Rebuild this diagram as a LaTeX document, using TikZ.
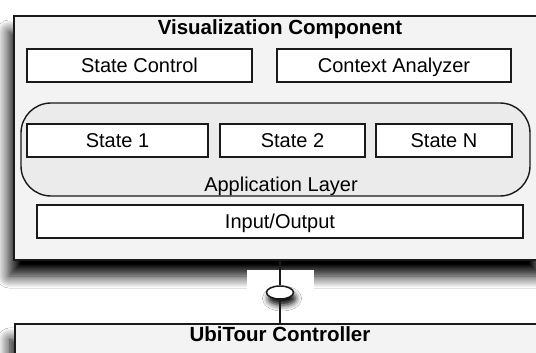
\documentclass[tikz,border=0pt]{standalone}
\usepackage{fontspec}
\setmainfont{Liberation Sans}
\usetikzlibrary{shapes.geometric,shadows.blur}
\definecolor{outerfill}{HTML}{F3F3F3}
\definecolor{layerfill}{HTML}{EBEBEB}
\definecolor{edge}{HTML}{1A1A1A}
\tikzset{
  box/.style={draw=edge, line width=1.8pt, fill=white, minimum height=33pt, inner sep=0pt,
    text height=14.3pt, text depth=0pt, font=\fontsize{20}{24}\selectfont},
  panel/.style={draw=edge, line width=1.8pt, fill=outerfill, inner sep=0pt,
    blur shadow={shadow xshift=-5pt, shadow yshift=-16pt, shadow blur radius=12pt, shadow opacity=100, shadow blur steps=12}},
  layer/.style={draw=edge, line width=1.4pt, fill=layerfill, rounded corners=30pt, inner sep=0pt},
  title/.style={font=\fontsize{20.5}{24}\selectfont\bfseries, inner sep=0pt, text height=14.6pt, text depth=0pt},
  label/.style={font=\fontsize{20}{24}\selectfont, inner sep=0pt, text height=14.3pt, text depth=0pt},
  link/.style={draw=edge, line width=1.5pt},
  port/.style={ellipse, draw=edge, line width=1.5pt, fill=white, minimum width=27pt, minimum height=13pt, inner sep=0pt,
    blur shadow={shadow xshift=2pt, shadow yshift=-6pt, shadow blur radius=6pt, shadow opacity=100}}
}
\begin{document}
\begin{tikzpicture}[x=1pt,y=-1pt]
\useasboundingbox (0,0) rectangle (536,353);
\clip (0,0) rectangle (536,353);
\fill[white] (0,0) rectangle (536,353);
% upper component
\node[panel, minimum width=532pt, minimum height=244pt] (vis) at (280,138) {};
\node[title] (vist) at (280,27.5) {Visualization Component};
\node[box, minimum width=225pt] (sc) at (139.5,65.5) {State Control};
\node[box, minimum width=234pt] (ca) at (394,65.5) {Context Analyzer};
\node[layer, minimum width=509pt, minimum height=93pt] (app) at (275.5,149.5) {};
\node[box, minimum width=181pt] (s1) at (117.5,140.5) {State 1};
\node[box, minimum width=145pt] (s2) at (292.5,140.5) {State 2};
\node[box, minimum width=136pt] (sN) at (444,140.5) {State N};
\node[label] (appl) at (281,184.5) {Application Layer};
\node[box, minimum width=486pt] (io) at (280,221.5) {Input/Output};
% white patch around the connector
\fill[white] (247,270) rectangle (314,322);
% lower component
\node[panel, minimum width=532pt, minimum height=80pt, anchor=north west] (ctrl) at (14,323) {};
\node[title] (ctrlt) at (280,334.5) {UbiTour Controller};
% connector
\node[port] (p) at (280,292.5) {};
\draw[link] (vis.south -| p) -- (p.north);
\draw[link] (p.south) -- (ctrl.north -| p);
\end{tikzpicture}
\end{document}
